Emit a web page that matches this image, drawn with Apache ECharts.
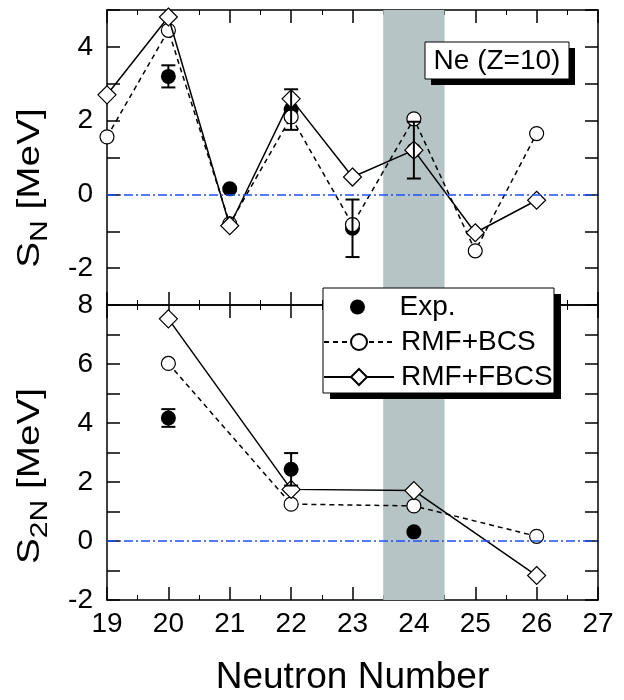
<!DOCTYPE html>
<html><head><meta charset="utf-8">
<script src="https://cdn.jsdelivr.net/npm/echarts@6/dist/echarts.min.js"></script>
<style>html,body{margin:0;padding:0;background:#fff}#c{width:624px;height:700px}</style>
</head><body><div id="c"></div>
<script>
// ---- data ----
const neutronN = [19, 20, 21, 22, 23, 24, 25, 26];
const snBCS  = [1.56, 4.45, -0.80, 2.10, -0.82, 2.05, -1.53, 1.65];
const snFBCS = [2.70, 4.81, -0.85, 2.59, 0.47, 1.20, -1.04, -0.16];
const snExpN = [20, 21, 22, 23, 24];
const snExp  = [3.20, 0.15, 2.30, -0.92, 1.20];
const snExpErr = [0.30, 0.05, 0.55, 0.78, 0.77];
const s2nN = [20, 22, 24, 26];
const s2nBCS  = [6.02, 1.25, 1.19, 0.16];
const s2nFBCS = [7.53, 1.75, 1.71, -1.17];
const s2nExpN = [20, 22, 24];
const s2nExp  = [4.17, 2.43, 0.31];
const s2nExpErr = [0.30, 0.55, 0.05];
const seriesNames = ['Exp.', 'RMF+BCS', 'RMF+FBCS'];
const shadedBand = [23.5, 24.5];
const xRange = [19, 27];
const snRange = [-3, 5];
const s2nRange = [-2, 8];

const FONT = "'Liberation Sans', Arial, sans-serif";
const zip = (xs, ys) => xs.map((x, i) => [x, ys[i]]);

function xAx(grid, pos, showLabel, name) {
  const a = {
    type: 'value', gridIndex: grid, position: pos, min: xRange[0], max: xRange[1], interval: 1,
    axisLine: { show: true, onZero: false, lineStyle: { color: '#000', width: 1.5 } },
    axisTick: { show: true, inside: true, length: 13, lineStyle: { color: '#000', width: 1.5 } },
    minorTick: { show: true, splitNumber: 2, length: 5, lineStyle: { color: '#000', width: 1 } },
    axisLabel: { show: showLabel, margin: 10, fontSize: 28, color: '#000', fontFamily: FONT },
    splitLine: { show: false }
  };
  if (name) {
    a.name = name; a.nameLocation = 'middle'; a.nameGap = 59;
    a.nameTextStyle = { fontSize: 37, color: '#000', fontFamily: FONT };
  }
  return a;
}
function yAx(grid, pos, range, showLabel) {
  return {
    type: 'value', gridIndex: grid, position: pos, min: range[0], max: range[1], interval: 1,
    axisLine: { show: true, onZero: false, lineStyle: { color: '#000', width: 1.5 } },
    axisTick: { show: true, inside: true, length: 13, lineStyle: { color: '#000', width: 1.5 } },
    axisLabel: { show: showLabel, margin: 14, fontSize: 28, color: '#000', fontFamily: FONT,
      formatter: v => (Math.round(v) % 2 === 0 ? String(Math.round(v)) : '') },
    splitLine: { show: false }
  };
}

function errBars(xi, yi, xs, ys, es) {
  return {
    type: 'custom', xAxisIndex: xi, yAxisIndex: yi, z: 10, silent: true,
    data: xs.map((x, i) => [x, ys[i] - es[i], ys[i] + es[i]]),
    renderItem(params, api) {
      const lo = api.coord([api.value(0), api.value(1)]);
      const hi = api.coord([api.value(0), api.value(2)]);
      const w = 7, st = { stroke: '#000', lineWidth: 2 };
      return { type: 'group', children: [
        { type: 'line', shape: { x1: lo[0], y1: lo[1], x2: hi[0], y2: hi[1] }, style: st },
        { type: 'line', shape: { x1: lo[0] - w, y1: lo[1], x2: lo[0] + w, y2: lo[1] }, style: st },
        { type: 'line', shape: { x1: hi[0] - w, y1: hi[1], x2: hi[0] + w, y2: hi[1] }, style: st }
      ]};
    }
  };
}
function bcs(xi, yi, data, withMarks) {
  const s = {
    name: seriesNames[1], type: 'line', xAxisIndex: xi, yAxisIndex: yi, z: 3, data,
    symbol: 'circle', symbolSize: 14, showAllSymbol: true, clip: true,
    lineStyle: { color: '#000', width: 1.5, type: [5, 4] },
    itemStyle: { color: '#fff', borderColor: '#000', borderWidth: 1.2 }
  };
  if (withMarks) {
    s.markArea = { silent: true, itemStyle: { color: '#b7c4c6' },
      data: [[{ xAxis: shadedBand[0] }, { xAxis: shadedBand[1] }]] };
    s.markLine = { silent: true, symbol: 'none', label: { show: false },
      lineStyle: { color: '#1f4fff', width: 1.5, type: [9, 3, 2, 3] },
      data: [{ yAxis: 0 }] };
  }
  return s;
}
function fbcs(xi, yi, data) {
  return {
    name: seriesNames[2], type: 'line', xAxisIndex: xi, yAxisIndex: yi, z: 4, data,
    symbol: 'diamond', symbolSize: 18, showAllSymbol: true, clip: true,
    lineStyle: { color: '#000', width: 1.5, type: 'solid' },
    itemStyle: { color: '#fff', borderColor: '#000', borderWidth: 1.2 }
  };
}
function exp(xi, yi, data) {
  return {
    name: seriesNames[0], type: 'scatter', xAxisIndex: xi, yAxisIndex: yi, z: 2, data,
    symbol: 'circle', symbolSize: 15, itemStyle: { color: '#000', opacity: 1 }
  };
}

const titleRich = {
  m: { fontSize: 31, fontFamily: FONT, lineHeight: 40, verticalAlign: 'middle' },
  s: { fontSize: 24, fontFamily: FONT, lineHeight: 40, padding: [20, 0, 0, 0], verticalAlign: 'middle' }
};

const option = {
  animation: false,
  backgroundColor: '#fff',
  grid: [
    { left: 107, top: 10, width: 491, height: 295 },
    { left: 107, top: 305, width: 491, height: 295 }
  ],
  xAxis: [
    xAx(0, 'bottom', false), xAx(0, 'top', false),
    xAx(1, 'bottom', true, 'Neutron Number'), xAx(1, 'top', false)
  ],
  yAxis: [
    yAx(0, 'left', snRange, true), yAx(0, 'right', snRange, false),
    yAx(1, 'left', s2nRange, true), yAx(1, 'right', s2nRange, false)
  ],
  legend: [
    { data: [{ name: seriesNames[0], icon: 'circle' }], orient: 'vertical', left: 350, top: 293, padding: 0, z: 110,
      itemWidth: 70, itemHeight: 15, itemGap: 7, selectedMode: false,
      textStyle: { fontSize: 28, color: '#000', fontFamily: FONT, padding: [0, 0, 0, 2] } },
    { data: [seriesNames[1], seriesNames[2]], orient: 'vertical', left: 323, top: 328, padding: 0, z: 110,
      itemWidth: 70, itemHeight: 20, itemGap: 7, selectedMode: false,
      textStyle: { fontSize: 28, color: '#000', fontFamily: FONT, padding: [0, 0, 0, 2] } }
  ],
  graphic: [
    { type: 'rect', z: 100, shape: { x: 330, y: 294, width: 231, height: 105 }, style: { fill: '#000' } },
    { type: 'rect', z: 101, shape: { x: 323, y: 288, width: 231, height: 105 }, style: { fill: '#fff', stroke: '#000', lineWidth: 1 } },
    { type: 'rect', z: 100, shape: { x: 431, y: 48, width: 144, height: 37 }, style: { fill: '#000' } },
    { type: 'rect', z: 101, shape: { x: 425, y: 42, width: 144, height: 37 }, style: { fill: '#fff', stroke: '#000', lineWidth: 1 } },
    { type: 'text', z: 102, x: 497, y: 61, style: { text: 'Ne (Z=10)', fontSize: 28, fontFamily: FONT, fill: '#000', align: 'center', verticalAlign: 'middle' } },
    { type: 'text', z: 102, x: 30, y: 188, rotation: Math.PI / 2, scaleX: 1.25,
      style: { text: '{m|S}{s|N}{m| [MeV]}', align: 'center', verticalAlign: 'middle', fill: '#000', rich: titleRich } },
    { type: 'text', z: 102, x: 30, y: 476, rotation: Math.PI / 2, scaleX: 1.25,
      style: { text: '{m|S}{s|2N}{m| [MeV]}', align: 'center', verticalAlign: 'middle', fill: '#000', rich: titleRich } }
  ],
  series: [
    exp(0, 0, zip(snExpN, snExp)),
    bcs(0, 0, zip(neutronN, snBCS), true),
    fbcs(0, 0, zip(neutronN, snFBCS)),
    errBars(0, 0, snExpN, snExp, snExpErr),
    exp(2, 2, zip(s2nExpN, s2nExp)),
    bcs(2, 2, zip(s2nN, s2nBCS), true),
    fbcs(2, 2, zip(s2nN, s2nFBCS)),
    errBars(2, 2, s2nExpN, s2nExp, s2nExpErr)
  ]
};
echarts.init(document.getElementById('c'), null, { renderer: 'canvas' }).setOption(option);
</script></body></html>
